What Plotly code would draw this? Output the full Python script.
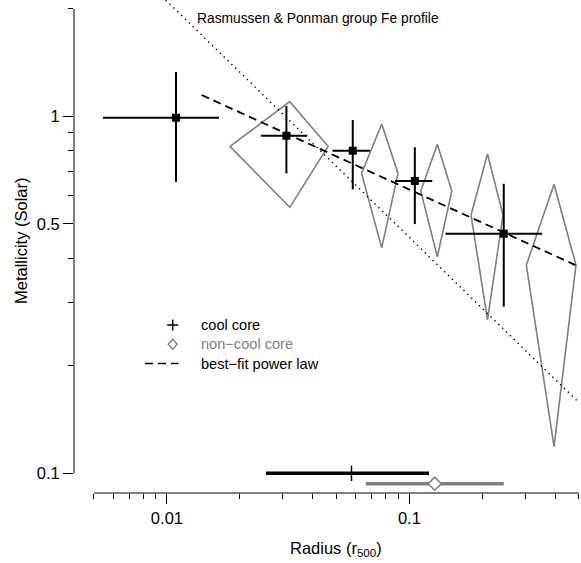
import math
import plotly.graph_objects as go

# ---------------- data ----------------
# cool-core groups: centre, x-range, y-range
cc_x = [0.0109, 0.0311, 0.0584, 0.1053, 0.245]
cc_xlo = [0.00545, 0.0244, 0.0482, 0.0873, 0.141]
cc_xhi = [0.0164, 0.0379, 0.0687, 0.1243, 0.3527]
cc_y = [0.991, 0.882, 0.801, 0.659, 0.469]
cc_ylo = [0.655, 0.692, 0.624, 0.499, 0.293]
cc_yhi = [1.33, 1.069, 0.976, 0.819, 0.647]

# non-cool-core groups: diamond centre and extents
ncc_x = [0.0321, 0.0769, 0.1304, 0.210, 0.395]
ncc_xlo = [0.0182, 0.0635, 0.1114, 0.1796, 0.3037]
ncc_xhi = [0.0462, 0.0898, 0.1496, 0.2433, 0.4865]
ncc_y = [0.824, 0.692, 0.618, 0.529, 0.383]
ncc_ylo = [0.556, 0.428, 0.404, 0.269, 0.1187]
ncc_yhi = [1.099, 0.9515, 0.835, 0.784, 0.645]

# best-fit power law (dashed) end points
bf_x = [0.0139, 0.484]
bf_y = [1.147, 0.383]

# Rasmussen & Ponman group Fe profile (dotted) end points
rp_x = [0.00988, 0.496]
rp_y = [2.118, 0.1587]

# radial ranges of the samples (bottom bars)
cc_range_x = [0.0256, 0.1205]
cc_range_mid = 0.0577
cc_range_y = 0.1
ncc_range_x = [0.0661, 0.245]
ncc_range_mid = 0.1272
ncc_range_y = 0.0935

x_major = [0.01, 0.1]
x_major_text = ["0.01", "0.1"]
x_minor = [0.005, 0.006, 0.007, 0.008, 0.009, 0.02, 0.03, 0.04, 0.05,
           0.06, 0.07, 0.08, 0.09, 0.2, 0.3, 0.4, 0.5]
y_major = [0.1, 0.5, 1]
y_major_text = ["0.1", "0.5", "1"]
y_minor = [0.2, 0.3, 0.4, 0.6, 0.7, 0.8, 0.9, 2]

x_axis_span = [0.005, 0.5]
y_axis_span = [0.1, 2]

# ---------------- layout geometry ----------------
W, H = 581, 563
ML, MR, MT, MB = 74, 0, 0, 70
XR = [-2.3833, -0.2922]
YR = [-1.0552, 0.3258]
PW, PH = W - ML - MR, H - MT - MB

BLACK = "#000000"
GRAY = "#7f7f7f"
FONT = "Liberation Sans, Arial, Helvetica, sans-serif"


def px2x(px):
    return (px - ML) / PW


def py2y(py):
    return (H - MB - py) / PH


def xv2paper(v):
    return (math.log10(v) - XR[0]) / (XR[1] - XR[0])


def yv2paper(v):
    return (math.log10(v) - YR[0]) / (YR[1] - YR[0])


fig = go.Figure()

# non-cool-core diamonds
dx, dy = [], []
for i in range(len(ncc_x)):
    dx += [ncc_xlo[i], ncc_x[i], ncc_xhi[i], ncc_x[i], ncc_xlo[i], None]
    dy += [ncc_y[i], ncc_yhi[i], ncc_y[i], ncc_ylo[i], ncc_y[i], None]
fig.add_trace(go.Scatter(x=dx, y=dy, mode="lines",
                         line=dict(color=GRAY, width=1.6),
                         hoverinfo="skip", showlegend=False))

# Rasmussen & Ponman dotted line
fig.add_trace(go.Scatter(x=rp_x, y=rp_y, mode="lines",
                         line=dict(color=BLACK, width=1.4, dash="1.4px,4px"),
                         hoverinfo="skip", showlegend=False))

# best-fit dashed line
fig.add_trace(go.Scatter(x=bf_x, y=bf_y, mode="lines",
                         line=dict(color=BLACK, width=1.8, dash="8px,5px"),
                         hoverinfo="skip", showlegend=False))

# cool-core points with error bars
fig.add_trace(go.Scatter(
    x=cc_x, y=cc_y, mode="markers",
    marker=dict(symbol="square", size=8, color=BLACK),
    error_x=dict(type="data", symmetric=False,
                 array=[h - c for h, c in zip(cc_xhi, cc_x)],
                 arrayminus=[c - l for l, c in zip(cc_xlo, cc_x)],
                 color=BLACK, thickness=2, width=0),
    error_y=dict(type="data", symmetric=False,
                 array=[h - c for h, c in zip(cc_yhi, cc_y)],
                 arrayminus=[c - l for l, c in zip(cc_ylo, cc_y)],
                 color=BLACK, thickness=2, width=0),
    hoverinfo="skip", showlegend=False))

# radial range bars at the bottom
fig.add_trace(go.Scatter(x=cc_range_x, y=[cc_range_y] * 2, mode="lines",
                         line=dict(color=BLACK, width=3.5),
                         hoverinfo="skip", showlegend=False))
fig.add_trace(go.Scatter(x=[cc_range_mid], y=[cc_range_y], mode="markers",
                         marker=dict(symbol="line-ns", size=11,
                                     line=dict(color=BLACK, width=1.5)),
                         hoverinfo="skip", showlegend=False))
fig.add_trace(go.Scatter(x=ncc_range_x, y=[ncc_range_y] * 2, mode="lines",
                         line=dict(color=GRAY, width=3.5),
                         hoverinfo="skip", showlegend=False))
fig.add_trace(go.Scatter(x=[ncc_range_mid], y=[ncc_range_y], mode="markers",
                         marker=dict(symbol="diamond", size=10, color="white",
                                     line=dict(color=GRAY, width=1.6)),
                         hoverinfo="skip", showlegend=False))

shapes = []
# axis lines (R style, spanning only the tick range)
shapes.append(dict(type="line", xref="paper", yref="paper",
                   x0=xv2paper(x_axis_span[0]), x1=xv2paper(x_axis_span[1]),
                   y0=0, y1=0, line=dict(color=BLACK, width=1)))
shapes.append(dict(type="line", xref="paper", yref="paper",
                   x0=0, x1=0,
                   y0=yv2paper(y_axis_span[0]), y1=yv2paper(y_axis_span[1]),
                   line=dict(color=BLACK, width=1)))

# legend symbols
lx, l1, l2, l3 = 172.7, 325, 344.3, 363.5
shapes.append(dict(type="line", xref="paper", yref="paper",
                   x0=px2x(lx - 5.5), x1=px2x(lx + 5.5), y0=py2y(l1), y1=py2y(l1),
                   line=dict(color=BLACK, width=1.5)))
shapes.append(dict(type="line", xref="paper", yref="paper",
                   x0=px2x(lx), x1=px2x(lx), y0=py2y(l1 - 5.5), y1=py2y(l1 + 5.5),
                   line=dict(color=BLACK, width=1.5)))
shapes.append(dict(type="path", xref="paper", yref="paper",
                   path="M {a},{b} L {c},{d} L {e},{b} L {c},{f} Z".format(
                       a=px2x(lx - 4.5), b=py2y(l2), c=px2x(lx),
                       d=py2y(l2 - 5), e=px2x(lx + 4.5), f=py2y(l2 + 5)),
                   line=dict(color=GRAY, width=1.3)))
shapes.append(dict(type="line", xref="paper", yref="paper",
                   x0=px2x(145), x1=px2x(178.5), y0=py2y(l3), y1=py2y(l3),
                   line=dict(color=BLACK, width=1.6, dash="8px,5px")))

annotations = []
for txt, yy, col in [("cool core", l1, BLACK),
                     ("non\u2212cool core", l2, GRAY),
                     ("best\u2212fit power law", l3, BLACK)]:
    annotations.append(dict(text=txt, xref="paper", yref="paper",
                            x=px2x(198.5), y=py2y(yy), xanchor="left",
                            yanchor="middle", showarrow=False,
                            font=dict(family=FONT, size=14.6, color=col)))
annotations.append(dict(text="Rasmussen & Ponman group Fe profile",
                        xref="paper", yref="paper", x=px2x(194.5), y=py2y(19),
                        xanchor="left", yanchor="middle", showarrow=False,
                        font=dict(family=FONT, size=13.8, color=BLACK)))
annotations.append(dict(text="Radius (r<sub>500</sub>)", xref="paper",
                        yref="paper", x=px2x(335.5), y=py2y(549),
                        xanchor="center", yanchor="middle", showarrow=False,
                        font=dict(family=FONT, size=16.5, color=BLACK)))
annotations.append(dict(text="Metallicity (Solar)", xref="paper",
                        yref="paper", x=px2x(21), y=py2y(241), textangle=-90,
                        xanchor="center", yanchor="middle", showarrow=False,
                        font=dict(family=FONT, size=16.5, color=BLACK)))

fig.update_layout(
    width=W, height=H, autosize=False,
    margin=dict(l=ML, r=MR, t=MT, b=MB, pad=0),
    paper_bgcolor="white", plot_bgcolor="white",
    showlegend=False,
    shapes=shapes, annotations=annotations,
    font=dict(family=FONT, size=16.5, color=BLACK),
    xaxis=dict(type="log", range=XR, showgrid=False, zeroline=False,
               showline=False, ticks="outside", ticklen=10, tickwidth=1,
               tickcolor=BLACK, tickmode="array", tickvals=x_major,
               ticktext=x_major_text,
               tickfont=dict(family=FONT, size=16.5, color=BLACK),
               minor=dict(tickmode="array", tickvals=x_minor, ticks="outside",
                          ticklen=5, tickwidth=1, tickcolor=BLACK,
                          showgrid=False)),
    yaxis=dict(type="log", range=YR, showgrid=False, zeroline=False,
               showline=False, ticks="outside", ticklen=10, tickwidth=1,
               tickcolor=BLACK, tickmode="array", tickvals=y_major,
               ticktext=y_major_text,
               tickfont=dict(family=FONT, size=16.5, color=BLACK),
               minor=dict(tickmode="array", tickvals=y_minor, ticks="outside",
                          ticklen=5, tickwidth=1, tickcolor=BLACK,
                          showgrid=False)),
)

fig.write_html("out.html",
               config={"displayModeBar": False, "staticPlot": True},
               post_script="document.body.style.margin='0';"
                           "document.body.style.overflow='hidden';")
